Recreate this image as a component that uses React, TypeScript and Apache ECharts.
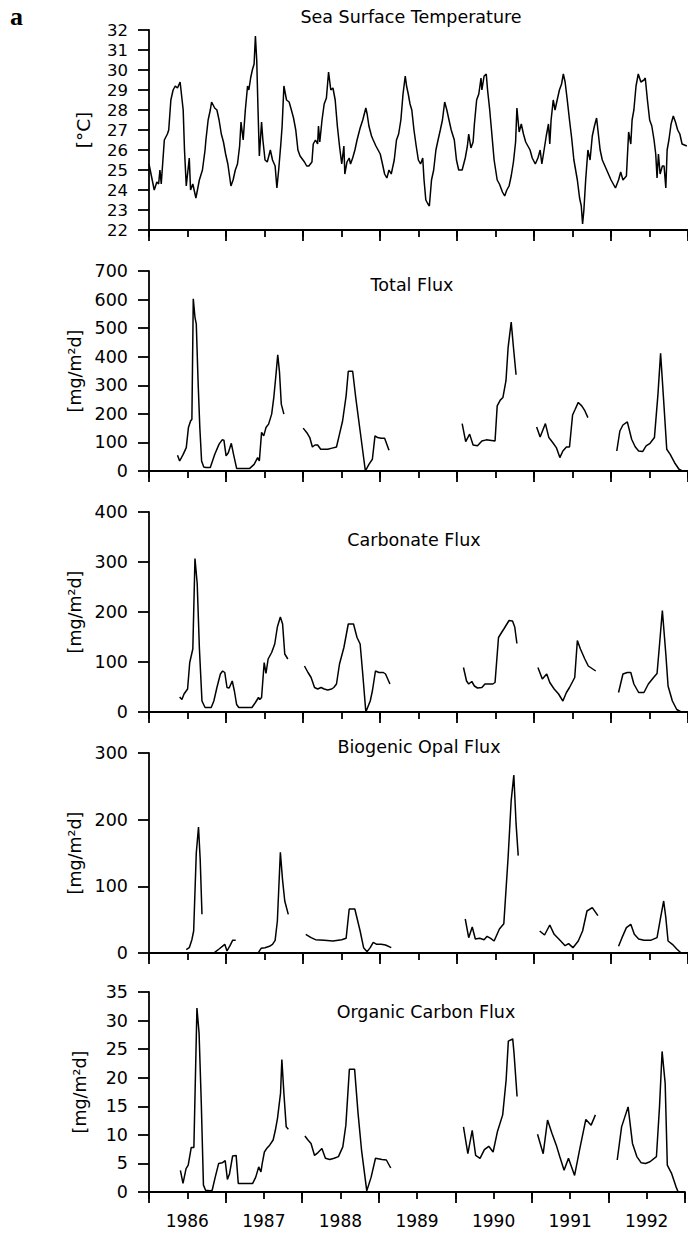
import React, { useEffect, useRef } from "react";
import * as echarts from "echarts";

const sst: (number | null)[][] = [
  [1986.000,25.3],[1986.068,24.0],[1986.102,24.4],[1986.125,24.3],[1986.142,25.0],[1986.159,24.3],[1986.199,26.5],[1986.239,26.8],[1986.256,27.0],[1986.284,28.5],[1986.313,29.0],[1986.341,29.2],[1986.370,29.1],[1986.404,29.4],[1986.444,28.0],[1986.461,26.0],[1986.484,24.2],[1986.523,25.6],[1986.540,24.0],[1986.569,24.3],[1986.609,23.6],[1986.654,24.5],[1986.694,25.0],[1986.728,26.0],[1986.739,26.5],[1986.768,27.5],[1986.796,28.0],[1986.813,28.4],[1986.853,28.1],[1986.882,28.0],[1986.910,27.5],[1986.939,26.8],[1986.967,26.4],[1986.995,25.8],
  [1987.024,25.3],[1987.064,24.2],[1987.092,24.5],[1987.121,25.0],[1987.149,25.3],[1987.177,26.2],[1987.195,27.4],[1987.223,26.5],[1987.251,28.0],[1987.280,29.2],[1987.297,29.0],[1987.320,29.6],[1987.342,30.0],[1987.365,30.3],[1987.382,31.7],[1987.399,30.5],[1987.416,28.0],[1987.433,25.7],[1987.462,27.4],[1987.479,26.5],[1987.507,25.5],[1987.536,25.4],[1987.576,26.0],[1987.604,25.5],[1987.638,25.2],[1987.661,24.1],[1987.684,25.0],[1987.712,26.3],[1987.729,27.2],[1987.752,29.2],[1987.786,28.5],[1987.820,28.4],[1987.849,28.0],[1987.877,27.6],[1987.906,27.0],[1987.934,26.0],[1987.962,25.7],
  [1988.019,25.4],[1988.048,25.2],[1988.076,25.2],[1988.116,25.4],[1988.133,26.3],[1988.162,26.5],[1988.190,26.3],[1988.201,27.2],[1988.218,26.4],[1988.247,27.5],[1988.275,28.3],[1988.304,28.6],[1988.332,29.9],[1988.361,29.0],[1988.389,29.1],[1988.418,28.5],[1988.446,27.2],[1988.474,26.2],[1988.503,25.3],[1988.531,26.2],[1988.543,24.8],[1988.571,25.4],[1988.600,25.6],[1988.617,25.3],[1988.645,25.6],[1988.674,26.0],[1988.702,26.5],[1988.742,27.1],[1988.776,27.5],[1988.816,28.1],[1988.833,27.8],[1988.856,27.2],[1988.890,26.7],[1988.912,26.5],[1988.947,26.2],[1988.975,26.0],
  [1989.003,25.8],[1989.032,25.3],[1989.060,24.8],[1989.089,24.6],[1989.117,25.0],[1989.146,24.8],[1989.185,25.5],[1989.214,26.5],[1989.242,26.8],[1989.271,27.5],[1989.299,28.8],[1989.328,29.7],[1989.345,29.2],[1989.367,28.8],[1989.390,28.3],[1989.413,28.0],[1989.441,27.0],[1989.470,26.2],[1989.498,25.5],[1989.527,25.3],[1989.555,25.6],[1989.572,24.5],[1989.595,23.5],[1989.623,23.3],[1989.641,23.2],[1989.669,24.5],[1989.697,25.0],[1989.726,26.0],[1989.754,26.5],[1989.783,27.0],[1989.811,27.5],[1989.840,28.4],[1989.868,28.0],[1989.896,27.5],[1989.925,27.0],[1989.965,26.5],[1989.993,25.5],
  [1990.022,25.0],[1990.067,25.0],[1990.107,25.6],[1990.135,26.2],[1990.152,26.8],[1990.181,26.1],[1990.209,26.4],[1990.226,27.3],[1990.255,28.5],[1990.283,28.8],[1990.312,29.6],[1990.323,29.0],[1990.352,29.7],[1990.380,29.8],[1990.397,29.0],[1990.425,28.0],[1990.448,27.0],[1990.482,25.5],[1990.522,24.5],[1990.551,24.3],[1990.590,23.9],[1990.619,23.7],[1990.647,24.0],[1990.676,24.2],[1990.704,24.7],[1990.733,25.4],[1990.761,26.4],[1990.778,28.1],[1990.807,26.9],[1990.835,27.3],[1990.863,26.8],[1990.892,26.4],[1990.949,26.0],[1990.977,25.6],
  [1991.017,25.3],[1991.051,25.6],[1991.080,26.0],[1991.102,25.3],[1991.131,26.0],[1991.159,26.7],[1991.188,27.3],[1991.205,26.3],[1991.222,27.5],[1991.250,28.5],[1991.273,28.0],[1991.301,28.5],[1991.330,29.0],[1991.358,29.3],[1991.381,29.8],[1991.404,29.4],[1991.432,28.5],[1991.461,27.5],[1991.489,26.6],[1991.518,25.5],[1991.563,24.5],[1991.592,23.6],[1991.614,23.2],[1991.631,22.3],[1991.648,23.0],[1991.671,24.5],[1991.700,26.0],[1991.728,25.5],[1991.757,26.7],[1991.785,27.2],[1991.813,27.6],[1991.830,27.0],[1991.859,26.0],[1991.887,25.5],[1991.944,25.0],
  [1992.001,24.5],[1992.058,24.1],[1992.098,24.5],[1992.126,24.9],[1992.155,24.5],[1992.200,24.7],[1992.229,26.9],[1992.257,26.3],[1992.274,27.5],[1992.297,28.0],[1992.325,29.2],[1992.354,29.8],[1992.388,29.4],[1992.428,29.5],[1992.445,29.6],[1992.473,28.5],[1992.502,27.5],[1992.530,27.2],[1992.559,26.5],[1992.581,25.8],[1992.598,24.6],[1992.616,25.8],[1992.638,24.8],[1992.667,25.2],[1992.689,25.2],[1992.712,24.1],[1992.729,26.0],[1992.752,26.5],[1992.780,27.3],[1992.809,27.7],[1992.837,27.4],[1992.866,27.0],[1992.894,26.8],[1992.923,26.3],[1992.985,26.2],
];

const totalFlux: (number | null)[][] = [
  [1986.370,55],[1986.398,35],[1986.444,58],[1986.484,82],[1986.512,152],[1986.540,175],[1986.557,181],[1986.575,603],[1986.597,538],[1986.614,515],[1986.637,316],[1986.660,152],[1986.683,35],[1986.711,14],[1986.739,12],[1986.796,12],[1986.853,58],[1986.910,94],[1986.950,109],[1986.973,108],[1987.001,53],[1987.030,64],[1987.069,97],[1987.098,58],[1987.138,9],[1987.195,9],[1987.251,9],[1987.308,9],[1987.365,23],[1987.411,47],[1987.433,35],[1987.462,135],[1987.490,123],[1987.519,152],[1987.553,164],[1987.593,199],[1987.621,258],[1987.650,340],[1987.672,407],[1987.695,345],[1987.718,234],[1987.752,199],[1987.88,null],
  [1988.002,150],[1988.048,135],[1988.088,117],[1988.122,84],[1988.156,91],[1988.190,91],[1988.230,76],[1988.321,76],[1988.378,80],[1988.435,84],[1988.474,129],[1988.514,175],[1988.560,263],[1988.588,349],[1988.645,349],[1988.685,257],[1988.742,140],[1988.810,0],[1988.856,23],[1988.901,41],[1988.935,123],[1988.969,117],[1989.015,115],[1989.060,115],[1989.117,73],[1989.5,null],
  [1990.067,166],[1990.113,103],[1990.164,129],[1990.209,91],[1990.266,88],[1990.323,105],[1990.380,109],[1990.494,105],[1990.522,228],[1990.562,248],[1990.596,257],[1990.636,316],[1990.664,433],[1990.704,521],[1990.733,433],[1990.767,337],[1990.9,null],
  [1991.034,154],[1991.080,119],[1991.148,166],[1991.193,117],[1991.245,99],[1991.290,82],[1991.336,47],[1991.375,70],[1991.421,84],[1991.461,84],[1991.501,196],[1991.535,216],[1991.575,240],[1991.620,228],[1991.660,211],[1991.700,187],[1991.9,null],
  [1992.075,70],[1992.115,140],[1992.155,161],[1992.212,172],[1992.268,111],[1992.314,85],[1992.359,70],[1992.411,68],[1992.456,88],[1992.507,97],[1992.564,117],[1992.610,269],[1992.644,412],[1992.684,246],[1992.724,76],[1992.769,58],[1992.826,29],[1992.883,6],[1992.928,0],
];

const carbonateFlux: (number | null)[][] = [
  [1986.398,30],[1986.427,25],[1986.455,36],[1986.501,46],[1986.529,99],[1986.569,126],[1986.597,307],[1986.626,257],[1986.654,129],[1986.688,22],[1986.728,9],[1986.808,9],[1986.842,22],[1986.882,49],[1986.927,76],[1986.956,82],[1986.984,79],[1987.013,49],[1987.041,48],[1987.081,62],[1987.109,42],[1987.138,15],[1987.166,9],[1987.337,9],[1987.382,19],[1987.422,29],[1987.439,25],[1987.462,29],[1987.496,99],[1987.519,77],[1987.547,106],[1987.593,119],[1987.633,136],[1987.667,170],[1987.706,190],[1987.735,176],[1987.763,116],[1987.803,106],[1987.9,null],
  [1988.019,92],[1988.065,79],[1988.105,69],[1988.150,49],[1988.190,46],[1988.235,49],[1988.275,46],[1988.321,44],[1988.372,46],[1988.400,49],[1988.435,56],[1988.474,96],[1988.531,129],[1988.588,176],[1988.656,176],[1988.702,149],[1988.742,136],[1988.776,76],[1988.816,0],[1988.873,22],[1988.901,42],[1988.941,82],[1988.986,79],[1989.043,79],[1989.072,76],[1989.129,56],[1989.5,null],
  [1990.084,89],[1990.124,62],[1990.152,56],[1990.192,61],[1990.226,52],[1990.266,48],[1990.323,49],[1990.363,56],[1990.408,56],[1990.465,56],[1990.494,59],[1990.539,149],[1990.579,159],[1990.608,166],[1990.636,173],[1990.676,183],[1990.721,182],[1990.750,170],[1990.778,137],[1990.9,null],
  [1991.051,89],[1991.108,66],[1991.165,76],[1991.205,59],[1991.262,46],[1991.319,36],[1991.375,22],[1991.421,39],[1991.461,49],[1991.529,69],[1991.563,143],[1991.603,126],[1991.660,106],[1991.705,92],[1991.802,82],[1991.95,null],
  [1992.098,39],[1992.155,76],[1992.212,79],[1992.257,79],[1992.297,56],[1992.359,39],[1992.428,39],[1992.485,56],[1992.553,69],[1992.598,77],[1992.627,129],[1992.667,203],[1992.712,116],[1992.741,52],[1992.797,22],[1992.854,5],[1992.911,0],
];

const opalFlux: (number | null)[][] = [
  [1986.484,5],[1986.523,8],[1986.557,20],[1986.580,33],[1986.614,150],[1986.643,189],[1986.665,140],[1986.688,58],[1986.77,null],
  [1986.853,1],[1986.910,6],[1986.984,13],[1987.013,3],[1987.052,11],[1987.086,19],[1987.126,19],[1987.3,null],
  [1987.422,1],[1987.456,7],[1987.507,8],[1987.564,10],[1987.604,13],[1987.638,19],[1987.667,48],[1987.706,151],[1987.735,109],[1987.763,78],[1987.809,58],[1987.9,null],
  [1988.036,28],[1988.105,23],[1988.162,20],[1988.275,19],[1988.389,18],[1988.503,20],[1988.560,22],[1988.600,66],[1988.673,66],[1988.742,33],[1988.787,8],[1988.833,2],[1988.873,8],[1988.912,16],[1988.958,13],[1989.015,13],[1989.072,12],[1989.146,8],[1989.5,null],
  [1990.107,51],[1990.152,23],[1990.198,39],[1990.238,21],[1990.295,22],[1990.352,20],[1990.391,25],[1990.437,22],[1990.482,18],[1990.551,36],[1990.608,44],[1990.664,144],[1990.704,229],[1990.738,267],[1990.767,194],[1990.795,146],[1990.9,null],
  [1991.074,33],[1991.137,27],[1991.205,42],[1991.262,28],[1991.347,18],[1991.404,11],[1991.449,14],[1991.506,8],[1991.575,18],[1991.631,33],[1991.688,63],[1991.757,68],[1991.830,56],[1991.95,null],
  [1992.098,10],[1992.143,23],[1992.200,38],[1992.257,43],[1992.303,28],[1992.359,21],[1992.428,19],[1992.513,19],[1992.598,23],[1992.644,53],[1992.684,78],[1992.712,53],[1992.741,18],[1992.797,13],[1992.854,6],[1992.911,0],
];

const organicCarbonFlux: (number | null)[][] = [
  [1986.410,3.8],[1986.444,1.5],[1986.484,4.1],[1986.512,4.7],[1986.552,7.8],[1986.586,7.8],[1986.626,32.2],[1986.654,27.8],[1986.683,15.5],[1986.711,1.2],[1986.739,0.3],[1986.796,0.2],[1986.825,0.3],[1986.865,2.6],[1986.910,5.0],[1986.956,5.1],[1986.995,5.5],[1987.024,2.2],[1987.052,3.2],[1987.092,6.3],[1987.138,6.4],[1987.166,1.5],[1987.354,1.5],[1987.394,2.6],[1987.433,4.4],[1987.462,3.5],[1987.479,5.0],[1987.507,7.0],[1987.536,7.6],[1987.576,8.2],[1987.621,9.1],[1987.650,10.8],[1987.678,12.9],[1987.718,17.3],[1987.735,23.2],[1987.763,17.0],[1987.792,11.4],[1987.820,11.0],[1987.93,null],
  [1988.036,9.8],[1988.076,9.1],[1988.116,8.5],[1988.162,6.4],[1988.207,6.9],[1988.258,7.6],[1988.304,5.9],[1988.361,5.7],[1988.418,5.9],[1988.474,6.2],[1988.531,7.9],[1988.571,11.7],[1988.617,21.5],[1988.685,21.5],[1988.730,13.8],[1988.776,7.3],[1988.844,0.2],[1988.901,2.6],[1988.958,5.9],[1989.043,5.7],[1989.100,5.6],[1989.157,4.2],[1989.5,null],
  [1990.107,11.4],[1990.164,6.7],[1990.221,10.8],[1990.266,6.4],[1990.323,5.9],[1990.380,7.4],[1990.437,8.0],[1990.494,7.0],[1990.551,10.6],[1990.619,13.5],[1990.664,19.6],[1990.693,26.4],[1990.750,26.8],[1990.767,24.3],[1990.807,16.7],[1990.95,null],
  [1991.074,10.1],[1991.148,6.7],[1991.205,12.6],[1991.262,10.3],[1991.319,8.2],[1991.364,6.2],[1991.421,3.8],[1991.478,5.9],[1991.558,2.9],[1991.631,7.9],[1991.705,12.7],[1991.774,11.7],[1991.830,13.5],[1991.97,null],
  [1992.115,5.6],[1992.172,11.4],[1992.257,14.9],[1992.314,8.5],[1992.371,6.2],[1992.428,5.1],[1992.485,5.0],[1992.542,5.3],[1992.627,6.2],[1992.667,14.9],[1992.701,24.6],[1992.741,19.0],[1992.769,4.7],[1992.826,3.2],[1992.883,0.9],[1992.911,0],
];

const panelTitles = ["Sea Surface Temperature", "Total Flux", "Carbonate Flux", "Biogenic Opal Flux", "Organic Carbon Flux"];
const yNames = ["[°C]", "[mg/m²d]", "[mg/m²d]", "[mg/m²d]", "[mg/m²d]"];
const yMins = [22, 0, 0, 0, 0];
const yMaxs = [32, 700, 400, 300, 35];
const yIntervals = [1, 100, 100, 100, 5];
const panelData = [sst, totalFlux, carbonateFlux, opalFlux, organicCarbonFlux];

const X_MIN = 1986;
const X_MAX = 1993;

// layout
const gridTops = [30, 271, 512, 753, 992];
const gridHeight = 200;
const gridLeft = 149;
const titleCenters = [[411, 18], [412, 286], [414, 541], [419, 748], [426, 1013]];

const FONT = "DejaVu Sans";

export default function App() {
  const ref = useRef<HTMLDivElement>(null);
  useEffect(() => {
    if (!ref.current) return;
    const chart = echarts.init(ref.current, undefined, { renderer: "svg" });
    const black = "#000";
    const grids = gridTops.map((top) => ({ left: gridLeft, right: 0, top, height: gridHeight }));
    const xAxes: any[] = [];
    gridTops.forEach((_, i) => {
      xAxes.push({
        gridIndex: i,
        type: "value",
        position: "bottom",
        min: X_MIN,
        max: X_MAX,
        interval: 0.5,
        axisLine: { show: true, onZero: false, lineStyle: { color: black, width: 1.8 } },
        axisTick: { show: true, length: 7, lineStyle: { color: black, width: 1.8 } },
        axisLabel: {
          show: i === 4,
          color: black,
          fontFamily: FONT,
          fontSize: 17,
          margin: 20,
          formatter: (v: number) => (Math.abs((v % 1) - 0.5) < 1e-6 ? String(Math.floor(v)) : ""),
        },
        splitLine: { show: false },
      });
    });
    gridTops.forEach((_, i) => {
      xAxes.push({
        gridIndex: i,
        type: "value",
        position: "bottom",
        min: X_MIN,
        max: X_MAX,
        interval: 1,
        axisLine: { show: false, onZero: false },
        axisTick: { show: true, length: 11, lineStyle: { color: black, width: 1.8 } },
        axisLabel: { show: false },
        splitLine: { show: false },
      });
    });
    const yAxes = gridTops.map((_, i) => ({
      gridIndex: i,
      type: "value",
      min: yMins[i],
      max: yMaxs[i],
      interval: yIntervals[i],
      axisLine: { show: true, onZero: false, lineStyle: { color: black, width: 1.8 } },
      axisTick: { show: true, length: 11, lineStyle: { color: black, width: 1.8 } },
      axisLabel: { color: black, fontFamily: FONT, fontSize: i === 0 ? 16.5 : 17.5, margin: 21 },
      splitLine: { show: false },
      name: yNames[i],
      nameLocation: "middle",
      nameGap: i === 0 ? 56 : 60,
      nameTextStyle: { color: black, fontFamily: FONT, fontSize: i === 0 ? 18.5 : 17.5 },
    }));
    const series = panelData.map((d, i) => ({
      type: "line",
      xAxisIndex: i,
      yAxisIndex: i,
      data: d,
      symbol: "none",
      showSymbol: false,
      connectNulls: false,
      lineStyle: { color: black, width: 1.5 },
      clip: true,
    }));
    const titles = panelTitles.map((t, i) => ({
      text: t,
      left: titleCenters[i][0],
      top: titleCenters[i][1] - 10,
      textAlign: "center",
      padding: 0,
      textStyle: { color: black, fontFamily: FONT, fontSize: 17.5, fontWeight: "normal" },
    }));
    chart.setOption({
      animation: false,
      backgroundColor: "#fff",
      title: titles,
      grid: grids,
      xAxis: xAxes,
      yAxis: yAxes,
      series,
      graphic: [
        {
          type: "text",
          left: 10,
          top: 3,
          style: { text: "a", fill: black, font: "bold 26px 'Liberation Serif'" },
        },
      ],
    });
    return () => chart.dispose();
  }, []);
  return <div ref={ref} style={{ position: "absolute", left: 0, top: 0, width: 688, height: 1237 }} />;
}
